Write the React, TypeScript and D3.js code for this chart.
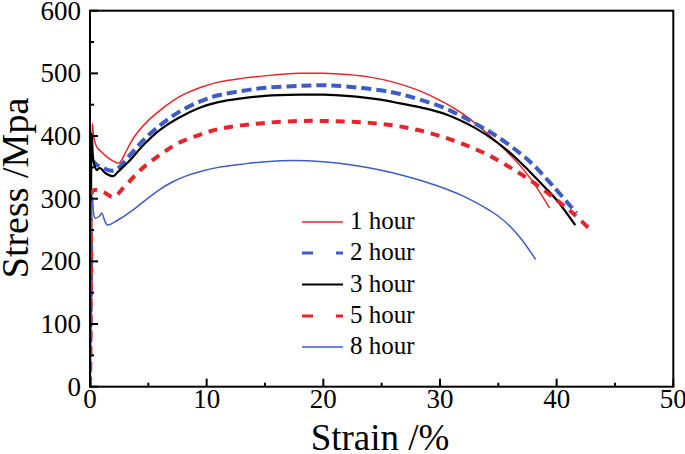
import React from "react";
import * as d3 from "d3";

const xTicks = [0, 10, 20, 30, 40, 50];
const yTicks = [0, 100, 200, 300, 400, 500, 600];
const seriesNames = ["1 hour", "2 hour", "3 hour", "5 hour", "8 hour"];

const h1: [number, number][] = [[0,0],[0.08,200],[0.2,420],[0.35,395],[0.6,382],[0.9,376],[1.5,366],[2,360],[2.5,357],[3,372],[3.5,390],[4,404],[5,425],[6,441],[7,455],[8,466],[9.4,477],[11,486],[13,492],[15,496],[18,500],[20,500],[22,498],[24,494],[26,486],[28,474],[30,457],[32,435],[34,405],[35,388],[36,370],[37,350],[38,326],[39.4,285]];
const h2: [number, number][] = [[0,0],[0.1,200],[0.2,360],[0.57,354],[1,351],[1.5,346],[2,345],[2.5,350],[3.3,367],[4,382],[4.7,396],[6,417],[7.5,437],[9.4,455],[11,465],[13,472],[15,477],[18,480],[20,481],[22,479],[24.9,473],[26.6,467],[28.3,458],[30.6,443],[33.4,416],[35,398],[36.9,372],[38,354],[39.7,320],[41.7,277]];
const h3: [number, number][] = [[0,0],[0.08,250],[0.15,404],[0.3,360],[0.57,346],[0.86,349],[1.3,341],[2,336],[2.4,343],[3.3,359],[4.7,388],[6,410],[7.5,428],[9.4,445],[11,454],[13,460],[15,464],[18,466],[20,466],[22,464],[24.9,458],[26.6,452],[28.5,445],[30.6,434],[33,413],[34.9,390],[36.5,365],[37.7,343],[39,318],[40,298],[41.6,258]];
const h5: [number, number][] = [[0,0],[0.1,200],[0.2,312],[0.43,314],[0.9,312],[1.3,309],[1.86,303],[2.2,304],[2.7,314],[3.86,337],[4.7,352],[6,370],[7.5,388],[9.4,402],[11,411],[13,417],[15,421],[18,424],[20,424],[22,423],[24,421],[26,417],[28,410],[30,400],[32,387],[34,371],[36,350],[38,326],[40,298],[41.5,275],[43.1,247]];
const h8: [number, number][] = [[0,0],[0.08,150],[0.2,303],[0.43,269],[0.8,272],[1.0,277],[1.3,263],[1.5,258],[2.4,266],[3.9,285],[4.7,297],[6,315],[7.1,327],[8.2,336],[9.4,343],[11,350],[13,355],[15,359],[17.5,361],[20,359],[22,355],[24,349],[26,341],[28,331],[30,319],[32,304],[34,284],[35,272],[36,256],[37,235],[38.2,203]];

const seriesData = [h1, h2, h3, h5, h8];
const styles = [
  { color: "#e8242b", width: 1.5, dash: "", legendDash: "" },
  { color: "#3d5cc4", width: 4, dash: "10,5", legendDash: "11,23" },
  { color: "#000000", width: 2.2, dash: "", legendDash: "" },
  { color: "#e8242b", width: 4, dash: "9,7", legendDash: "11,23" },
  { color: "#3d5cc4", width: 1.5, dash: "", legendDash: "" },
];

const FONT = "Liberation Serif";

export default function App() {
  const W = 685, H = 454;
  const L = 90, R = 673.3, T = 10.7, B = 386.7;
  const x = d3.scaleLinear().domain([0, 50]).range([L, R]);
  const y = d3.scaleLinear().domain([0, 600]).range([B, T]);
  const line = d3.line<[number, number]>().x(d => x(d[0])).y(d => y(d[1])).curve(d3.curveCatmullRom.alpha(0.5));
  const xMinor = d3.range(5, 50, 10);
  const yMinor = d3.range(50, 600, 100);
  const legendBase = [229, 260, 291.5, 323, 354];
  return (
    <div style={{ position: "absolute", left: 0, top: 0 }}>
      <svg width={W} height={H} style={{ display: "block", background: "#fff" }}>
        <defs>
          <clipPath id="plotclip"><rect x={L} y={T} width={R - L} height={B - T} /></clipPath>
        </defs>
        <g clipPath="url(#plotclip)">
          {seriesData.map((d, i) => (
            <path key={i} d={line(d) || ""} fill="none" stroke={styles[i].color}
              strokeWidth={styles[i].width} strokeDasharray={styles[i].dash || undefined} />
          ))}
        </g>
        <rect x={L} y={T} width={R - L} height={B - T} fill="none" stroke="#000" strokeWidth={2} />
        {xTicks.map(t => (
          <g key={"xt" + t}>
            <line x1={x(t)} x2={x(t)} y1={B} y2={B - 8} stroke="#000" strokeWidth={2} />
            <text x={x(t)} y={408} textAnchor="middle" fontFamily={FONT} fontSize={27}>{t}</text>
          </g>
        ))}
        {xMinor.map(t => (
          <line key={"xm" + t} x1={x(t)} x2={x(t)} y1={B} y2={B - 4} stroke="#000" strokeWidth={2} />
        ))}
        {yTicks.map(t => (
          <g key={"yt" + t}>
            <line x1={L} x2={L + 8} y1={y(t)} y2={y(t)} stroke="#000" strokeWidth={2} />
            <text x={81} y={y(t) + 9} textAnchor="end" fontFamily={FONT} fontSize={27}>{t}</text>
          </g>
        ))}
        {yMinor.map(t => (
          <line key={"ym" + t} x1={L} x2={L + 4} y1={y(t)} y2={y(t)} stroke="#000" strokeWidth={2} />
        ))}
        <text x={380} y={450} textAnchor="middle" fontFamily={FONT} fontSize={37}>Strain /%</text>
        <text transform="translate(28,188) rotate(-90)" textAnchor="middle" fontFamily={FONT} fontSize={38}>Stress /Mpa</text>
        {seriesNames.map((n, i) => (
          <g key={n}>
            <line x1={302} x2={343} y1={legendBase[i] - 7} y2={legendBase[i] - 7} stroke={styles[i].color}
              strokeWidth={styles[i].dash ? 3 : styles[i].width}
              strokeDasharray={styles[i].legendDash || undefined} />
            <text x={350} y={legendBase[i]} fontFamily={FONT} fontSize={25}>{n}</text>
          </g>
        ))}
      </svg>
    </div>
  );
}
